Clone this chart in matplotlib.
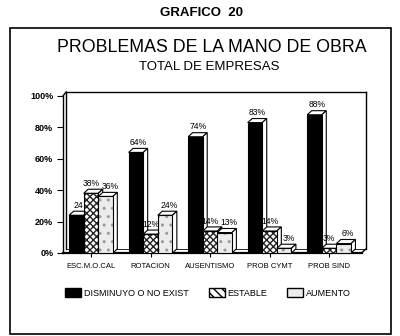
import matplotlib
matplotlib.use("Agg")
import matplotlib.pyplot as plt
from matplotlib.patches import Polygon, Rectangle, Patch
import numpy as np

# values
categories = ["ESC.M.O.CAL", "ROTACION", "AUSENTISMO", "PROB CYMT", "PROB SIND"]
disminuyo = [24, 64, 74, 83, 88]
estable = [38, 12, 14, 14, 3]
aumento = [36, 24, 13, 3, 6]
lbl_dis = ["24", "64%", "74%", "83%", "88%"]
lbl_est = ["38%", "12%", "14%", "14%", "3%"]
lbl_aum = ["36%", "24%", "13%", "3%", "6%"]
series_names = ["DISMINUYO O NO EXIST", "ESTABLE", "AUMENTO"]
yticks = [0, 20, 40, 60, 80, 100]

plt.rcParams['font.family'] = ['Liberation Sans', 'DejaVu Sans']

W, H = 400, 336
fig = plt.figure(figsize=(W / 100, H / 100), dpi=100)

def px(x0, y0, x1, y1):
    # pixel box (top-left origin) -> figure fraction rect
    return [x0 / W, 1 - y1 / H, (x1 - x0) / W, (y1 - y0) / H]

ax = fig.add_axes(px(63, 92, 366, 253))
xmin, xmax = -0.47, 4.62
ax.set_xlim(xmin, xmax)
ax.set_ylim(0, 102.5)
for s in ax.spines.values():
    s.set_visible(False)

dx, dy = 0.075, 2.6   # depth of the fake 3d
w = 0.245
x = np.arange(len(categories))

# back wall and floor
lk = dict(color="black", lw=1.0, zorder=1, clip_on=False)
ax.plot([xmin, xmin], [0, 100], **lk)
ax.plot([xmin, xmin + dx * 0.7], [100, 102.5], **lk)
ax.plot([xmin + dx * 0.7, xmax], [102.5, 102.5], **lk)
ax.plot([xmax, xmax], [102.5, dy], **lk)
ax.plot([xmin + dx * 0.7, xmin + dx * 0.7], [dy, 102.5], **lk)
ax.plot([xmin, xmax - dx], [0, 0], color="black", lw=1.6, zorder=1, clip_on=False)
ax.plot([xmax - dx, xmax], [0, dy], **lk)
ax.plot([xmin + dx * 0.7, xmax], [dy, dy], color="black", lw=0.6, zorder=1)

def bar3d(xc, h, kind, z):
    left = xc - w / 2
    right = xc + w / 2
    top = Polygon([[left, h], [left + dx, h + dy], [right + dx, h + dy], [right, h]],
                  closed=True, fc="white", ec="black", lw=0.8, zorder=z)
    side = Polygon([[right, 0], [right + dx, dy], [right + dx, h + dy], [right, h]],
                   closed=True, fc="white", ec="black", lw=0.8, zorder=z)
    ax.add_patch(top)
    ax.add_patch(side)
    if kind == 0:
        ax.bar(xc, h, w, color="black", edgecolor="black", lw=0.8, zorder=z)
    elif kind == 1:
        ax.bar(xc, h, w, color="white", edgecolor="#222222", hatch="xxxxx", lw=0, zorder=z)
        ax.bar(xc, h, w, fill=False, edgecolor="black", lw=0.8, zorder=z)
    else:
        ax.bar(xc, h, w, color="#ececec", edgecolor="#9a9a9a", hatch="..", lw=0, zorder=z)
        ax.bar(xc, h, w, fill=False, edgecolor="black", lw=0.8, zorder=z)

tk = dict(ha="center", va="bottom", fontsize=6.2, zorder=20)
shift = [dx / 2, 0, dx]
z = 2
for i in range(len(categories)):
    for k, (vals, labs) in enumerate([(disminuyo, lbl_dis), (estable, lbl_est), (aumento, lbl_aum)]):
        xc = x[i] + (k - 1) * w
        bar3d(xc, vals[i], k, z)
        z += 1
        ax.text(xc + shift[k], vals[i] + dy + 0.8, labs[i], **tk)

ax.set_yticks(yticks)
ax.set_yticklabels([f"{v}%" for v in yticks], fontsize=6.5, fontweight="bold")
ax.set_xticks(x)
ax.set_xticklabels(categories, fontsize=5.5)
ax.tick_params(axis="y", length=4, width=0.8, pad=3)
ax.tick_params(axis="x", length=3, width=0.8, pad=4)

# titles
fig.text(202 / W, 1 - 13 / H, "GRAFICO  20", ha="center", va="center",
         fontsize=9.5, fontweight="bold")
fig.text(212 / W, 1 - 48 / H, "PROBLEMAS DE LA MANO DE OBRA", ha="center", va="center",
         fontsize=12.8)
fig.text(209 / W, 1 - 67 / H, "TOTAL DE EMPRESAS", ha="center", va="center", fontsize=9.5)

# legend
handles = [Patch(fc="black", ec="black"),
           Patch(fc="white", ec="black", hatch="\\\\\\\\"),
           Patch(fc="#ececec", ec="black")]
fig.legend(handles, series_names, loc="center", bbox_to_anchor=(208 / W, 1 - 293 / H),
           ncol=3, frameon=False, fontsize=6.5, handlelength=1.8, handleheight=1.0,
           handletextpad=0.3, columnspacing=2.2)

# outer frame
fig.add_artist(Rectangle((10 / W, 1 - 334 / H), 381 / W, 306 / H, transform=fig.transFigure,
                         fill=False, ec="black", lw=1.2))

fig.savefig("out.png", dpi=100)
